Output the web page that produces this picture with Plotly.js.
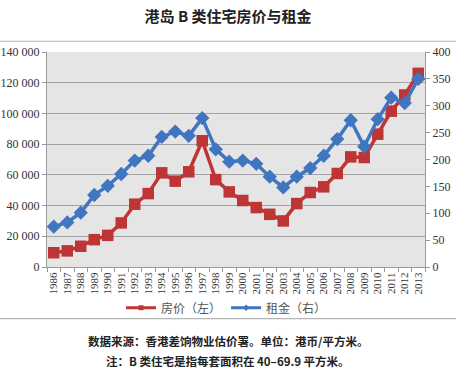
<!DOCTYPE html>
<html>
<head>
<meta charset="utf-8">
<script src="https://cdn.plot.ly/plotly-3.0.1.min.js"></script>
<style>
html,body{margin:0;padding:0;background:#fff;}
#chart{width:456px;height:373px;}
</style>
</head>
<body>
<div id="chart"></div>
<script>
const years = ["1986","1987","1988","1989","1990","1991","1992","1993","1994","1995","1996","1997","1998","1999","2000","2001","2002","2003","2004","2005","2006","2007","2008","2009","2010","2011","2012","2013"];
const priceLeft = [9300,10500,13500,17800,20600,28700,40900,47800,61300,55900,62000,82200,56900,48900,43300,38700,34300,30000,41300,48500,52200,60900,71700,71300,86500,101500,112000,126100];
const rentRight = [75,83,101,134,151,173,198,207,242,252,244,277,219,196,198,192,168,148,168,184,207,238,273,224,275,315,305,350];
const leftTickVals = [0,20000,40000,60000,80000,100000,120000,140000];
const leftTickText = ["0","20 000","40 000","60 000","80 000","100 000","120 000","140 000"];
const rightTickVals = [0,50,100,150,200,250,300,350,400];
const seriesNames = ["房价（左）","租金（右）"];
const titleText = "港岛 B 类住宅房价与租金";
const note1 = "数据来源：香港差饷物业估价署。单位：港币/平方米。";
const note2 = "注：B 类住宅是指每套面积在 40–69.9 平方米。";

const serif = "Liberation Serif";
const cjk = "Noto Sans CJK SC";
const red = "#bd3535", blue = "#4076c0";

const traces = [
  {
    x: years, y: priceLeft, name: seriesNames[0], type: "scatter", mode: "lines+markers",
    line: {color: red, width: 3.5},
    marker: {symbol: "square", size: 11.5, color: red},
    yaxis: "y", showlegend: false
  },
  {
    x: years, y: rentRight, name: seriesNames[1], type: "scatter", mode: "lines+markers",
    line: {color: blue, width: 3.5},
    marker: {symbol: "diamond", size: 11, color: blue},
    yaxis: "y2", showlegend: false
  },
  {
    x: [null], y: [null], name: seriesNames[0], type: "scatter", mode: "lines+markers",
    line: {color: red, width: 3}, marker: {symbol: "square", size: 5, color: red}, yaxis: "y"
  },
  {
    x: [null], y: [null], name: seriesNames[1], type: "scatter", mode: "lines+markers",
    line: {color: blue, width: 3}, marker: {symbol: "diamond", size: 5, color: blue}, yaxis: "y2"
  }
];

const layout = {
  width: 456, height: 373,
  margin: {l: 47, r: 31, t: 52, b: 106, pad: 0},
  paper_bgcolor: "#ffffff",
  plot_bgcolor: "#e5e5e5",
  showlegend: true,
  title: {
    text: "<b>" + titleText + "</b>",
    font: {family: cjk, size: 15, color: "#222"},
    x: 0.5, xanchor: "center", y: 0.955, yref: "container", yanchor: "middle"
  },
  xaxis: {
    type: "category",
    tickmode: "array", tickvals: years, ticktext: years,
    tickangle: -90,
    tickfont: {family: serif, size: 11, color: "#333"},
    showgrid: false,
    showline: true, linecolor: "#999", linewidth: 1,
    ticks: "outside", ticklen: 4, tickcolor: "#999",
    tickson: "boundaries",
    range: [-0.5, years.length - 0.5]
  },
  yaxis: {
    range: [0, 140000],
    tickvals: leftTickVals, ticktext: leftTickText,
    tickfont: {family: serif, size: 12, color: "#333"},
    showgrid: true, gridcolor: "#a3a3a3", gridwidth: 1,
    zeroline: false,
    showline: true, linecolor: "#999", linewidth: 1,
    ticks: "outside", ticklen: 4, tickcolor: "#999"
  },
  yaxis2: {
    overlaying: "y", side: "right",
    range: [0, 400],
    tickvals: rightTickVals,
    tickfont: {family: serif, size: 12, color: "#333"},
    showgrid: false, zeroline: false,
    showline: true, linecolor: "#999", linewidth: 1,
    ticks: "outside", ticklen: 4, tickcolor: "#999"
  },
  legend: {
    orientation: "h",
    x: 0.475, xanchor: "center",
    y: -0.19, yanchor: "middle",
    font: {family: cjk, size: 12, color: "#555"},
    bgcolor: "rgba(0,0,0,0)",
    itemwidth: 30,
    tracegroupgap: 0
  },
  shapes: [
    {type: "rect", xref: "paper", yref: "paper",
     x0: -0.14, x1: 1.1, y0: -0.24, y1: 1.05,
     line: {color: "#b5b5b5", width: 1.2}, fillcolor: "rgba(0,0,0,0)", layer: "below"}
  ],
  annotations: [
    {text: "<b>" + note1 + "</b>", xref: "paper", yref: "paper", x: 0.48, y: -0.343,
     xanchor: "center", yanchor: "middle", showarrow: false,
     font: {family: cjk, size: 11.5, color: "#222"}},
    {text: "<b>" + note2 + "</b>", xref: "paper", yref: "paper", x: 0.48, y: -0.436,
     xanchor: "center", yanchor: "middle", showarrow: false,
     font: {family: cjk, size: 11.5, color: "#222"}}
  ]
};

Plotly.newPlot("chart", traces, layout, {displayModeBar: false, staticPlot: true});
</script>
</body>
</html>
